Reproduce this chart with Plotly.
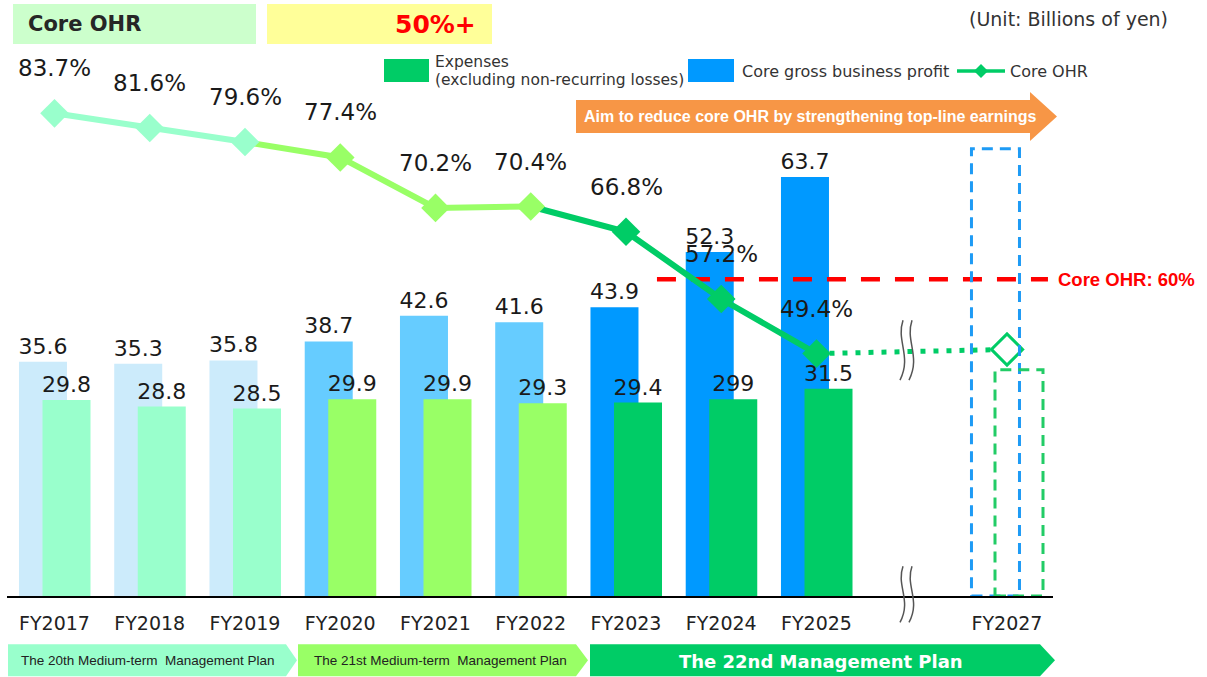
import plotly.graph_objects as go

# ---------------- data ----------------
years = ["FY2017", "FY2018", "FY2019", "FY2020", "FY2021", "FY2022", "FY2023", "FY2024", "FY2025"]
target_year = "FY2027"
core_profit = [35.6, 35.3, 35.8, 38.7, 42.6, 41.6, 43.9, 52.3, 63.7]
expenses = [29.8, 28.8, 28.5, 29.9, 29.9, 29.3, 29.4, 29.9, 31.5]
expense_labels = ["29.8", "28.8", "28.5", "29.9", "29.9", "29.3", "29.4", "299", "31.5"]
core_ohr = [83.7, 81.6, 79.6, 77.4, 70.2, 70.4, 66.8, 57.2, 49.4]
plan_index = [0, 0, 0, 1, 1, 1, 2, 2, 2]
target_profit = 68.0
target_expense = 34.4
target_ohr = 50.0
ohr_threshold = 60.0
plan_names = ["The 20th Medium-term  Management Plan",
              "The 21st Medium-term  Management Plan",
              "The 22nd Management Plan"]

# ---------------- style ----------------
profit_cols = ["#CCEBFB", "#66CCFF", "#0099FF"]
expense_cols = ["#99FFCC", "#99FF66", "#00CC66"]
FONT = "DejaVu Sans, Verdana, sans-serif"
NARROW = "Liberation Sans Narrow, Arial Narrow, Liberation Sans, Arial, sans-serif"

W, H = 1207, 677
L, R, T, B = 7, 1053, 60, 595.7


def px(x):
    return (x - L) / (R - L)


def py(y):
    return (B - y) / (B - T)


def path(points):
    s = "M " + " L ".join(f"{px(a):.5f},{py(b):.5f}" for a, b in points) + " Z"
    return s


xs = list(range(len(years)))
x_target = len(years) + 1
bw = 0.504
off_p = -0.373
off_e = -0.126

fig = go.Figure()

fig.add_trace(go.Bar(
    x=xs, y=core_profit, width=bw, offset=off_p,
    marker=dict(color=[profit_cols[p] for p in plan_index], line=dict(width=0)),
    text=[f"{v:.1f}" for v in core_profit], textposition="outside",
    textfont=dict(size=22, color="#1a1a1a", family=FONT),
    constraintext="none", cliponaxis=False, showlegend=False, hoverinfo="skip"))
fig.add_trace(go.Bar(
    x=xs, y=expenses, width=bw, offset=off_e,
    marker=dict(color=[expense_cols[p] for p in plan_index], line=dict(width=0)),
    text=expense_labels, textposition="outside",
    textfont=dict(size=22, color="#1a1a1a", family=FONT),
    constraintext="none", cliponaxis=False, showlegend=False, hoverinfo="skip"))

# threshold line (on y2 so it is above bars but under the OHR line)
fig.add_trace(go.Scatter(
    x=[6.325, 10.43], y=[ohr_threshold, ohr_threshold], yaxis="y2", mode="lines",
    line=dict(color="#FF0000", width=4.5, dash="19px,15px"), showlegend=False, hoverinfo="skip"))

# dotted connector to target
fig.add_trace(go.Scatter(
    x=[xs[-1], x_target], y=[core_ohr[-1], target_ohr], yaxis="y2", mode="lines",
    line=dict(color="#00CC66", width=5, dash="5px,8px"), showlegend=False, hoverinfo="skip"))

# OHR line segments
segments = [(0, 2), (2, 5), (5, 8)]
for k in (2, 1, 0):
    a, b = segments[k]
    fig.add_trace(go.Scatter(
        x=xs[a:b + 1], y=core_ohr[a:b + 1], yaxis="y2", mode="lines",
        line=dict(color=expense_cols[k], width=6), showlegend=False, hoverinfo="skip"))
fig.add_trace(go.Scatter(
    x=xs, y=core_ohr, yaxis="y2", mode="markers",
    marker=dict(symbol="diamond", size=22, color=[expense_cols[p] for p in plan_index], line=dict(width=0)),
    showlegend=False, hoverinfo="skip"))
fig.add_trace(go.Scatter(
    x=[x_target], y=[target_ohr], yaxis="y2", mode="markers",
    marker=dict(symbol="diamond", size=24, color="white", line=dict(width=3, color="#00CC66")),
    showlegend=False, hoverinfo="skip"))

annotations = []
for i, v in enumerate(core_ohr):
    annotations.append(dict(x=xs[i], y=v, xref="x", yref="y2", text=f"{v:.1f}%", showarrow=False,
                            yshift=45, font=dict(size=23, color="#1a1a1a", family=FONT)))

shapes = []
# target dashed boxes
shapes.append(dict(type="rect", xref="x", yref="y", x0=x_target + off_p, x1=x_target + off_p + bw,
                   y0=0, y1=target_profit, line=dict(color="#1E9BF5", width=3, dash="11px,7px"),
                   fillcolor="rgba(0,0,0,0)"))
shapes.append(dict(type="rect", xref="x", yref="y", x0=x_target + off_e, x1=x_target + off_e + bw,
                   y0=0, y1=target_expense, line=dict(color="#22CC66", width=3, dash="11px,7px"),
                   fillcolor="rgba(0,0,0,0)"))

# axis break marks
def wave(x0, yt, yb):
    h = yb - yt
    return (f"M {px(x0):.5f},{py(yt):.5f} C {px(x0 - 7):.5f},{py(yt + 0.35 * h):.5f} "
            f"{px(x0 + 9):.5f},{py(yb - 0.4 * h):.5f} {px(x0 - 3):.5f},{py(yb):.5f}")

for (yt, yb) in [(320, 380), (566, 622)]:
    for dx in (0, 9):
        shapes.append(dict(type="path", xref="paper", yref="paper", path=wave(903 + dx, yt, yb),
                           line=dict(color="#555555", width=1.5)))

# header boxes
shapes.append(dict(type="rect", xref="paper", yref="paper", x0=px(13), x1=px(256), y0=py(44), y1=py(4),
                   fillcolor="#CCFFCC", line=dict(width=0)))
shapes.append(dict(type="rect", xref="paper", yref="paper", x0=px(267), x1=px(492), y0=py(44), y1=py(4),
                   fillcolor="#FFFF99", line=dict(width=0)))
annotations.append(dict(x=px(26), y=py(24), xref="paper", yref="paper", xanchor="left", yanchor="middle",
                        text="<b>Core OHR</b>", showarrow=False, font=dict(size=21, color="#262626", family=FONT)))
annotations.append(dict(x=px(478), y=py(25), xref="paper", yref="paper", xanchor="right", yanchor="middle",
                        text="<b>50%+</b>", showarrow=False, font=dict(size=25, color="#FF0000", family=FONT)))
annotations.append(dict(x=px(1170), y=py(19), xref="paper", yref="paper", xanchor="right", yanchor="middle",
                        text="(Unit: Billions of yen)", showarrow=False, font=dict(size=19, color="#333333", family=FONT)))

# legend
shapes.append(dict(type="rect", xref="paper", yref="paper", x0=px(384), x1=px(429), y0=py(82), y1=py(59),
                   fillcolor="#00CC66", line=dict(width=0)))
annotations.append(dict(x=px(433), y=py(62), xref="paper", yref="paper", xanchor="left", yanchor="middle",
                        text="Expenses", showarrow=False, font=dict(size=15.5, color="#333333", family=FONT)))
annotations.append(dict(x=px(433), y=py(80), xref="paper", yref="paper", xanchor="left", yanchor="middle",
                        text="(excluding non-recurring losses)", showarrow=False,
                        font=dict(size=15.5, color="#333333", family=FONT)))
shapes.append(dict(type="rect", xref="paper", yref="paper", x0=px(688), x1=px(734), y0=py(82), y1=py(59),
                   fillcolor="#0099FF", line=dict(width=0)))
annotations.append(dict(x=px(740), y=py(71), xref="paper", yref="paper", xanchor="left", yanchor="middle",
                        text="Core gross business profit", showarrow=False,
                        font=dict(size=16, color="#333333", family=FONT)))
shapes.append(dict(type="line", xref="paper", yref="paper", x0=px(957), x1=px(1005), y0=py(71), y1=py(71),
                   line=dict(color="#00CC66", width=3.5)))
shapes.append(dict(type="path", xref="paper", yref="paper",
                   path=path([(974, 71), (981, 64), (988, 71), (981, 78)]),
                   fillcolor="#00CC66", line=dict(width=0)))
annotations.append(dict(x=px(1008), y=py(71), xref="paper", yref="paper", xanchor="left", yanchor="middle",
                        text="Core OHR", showarrow=False, font=dict(size=16, color="#333333", family=FONT)))

# orange arrow banner
shapes.append(dict(type="path", xref="paper", yref="paper",
                   path=path([(576, 100), (1030, 100), (1030, 92), (1057, 116.5), (1030, 141), (1030, 133), (576, 133)]),
                   fillcolor="#F79646", line=dict(width=0)))
annotations.append(dict(x=px(811), y=py(116.5), xref="paper", yref="paper", xanchor="center", yanchor="middle",
                        text="<b>Aim to reduce core OHR by strengthening top-line earnings</b>", showarrow=False,
                        font=dict(size=16, color="white", family=NARROW)))

# threshold label
annotations.append(dict(x=px(1056), y=ohr_threshold, xref="paper", yref="y2", xanchor="left", yanchor="middle",
                        text="<b>Core OHR: 60%</b>", showarrow=False,
                        font=dict(size=18.5, color="#FF0000", family="Liberation Sans, Arial, sans-serif")))

# bottom plan chevrons
chevrons = [
    ([(8, 644), (286, 644), (297, 660), (286, 676), (8, 676)], 148),
    ([(298, 644), (576, 644), (588, 660), (576, 676), (298, 676)], 440),
    ([(590, 644), (1040, 644), (1055, 660), (1040, 676), (590, 676)], 821),
]
for k, (pts, cx) in enumerate(chevrons):
    shapes.append(dict(type="path", xref="paper", yref="paper", path=path(pts),
                       fillcolor=expense_cols[k], line=dict(width=0)))
    if k < 2:
        annotations.append(dict(x=px(cx), y=py(660), xref="paper", yref="paper", xanchor="center",
                                yanchor="middle", text=plan_names[k], showarrow=False,
                                font=dict(size=13.5, color="#222222", family=NARROW)))
    else:
        annotations.append(dict(x=px(cx), y=py(661), xref="paper", yref="paper", xanchor="center",
                                yanchor="middle", text="<b>" + plan_names[k] + "</b>", showarrow=False,
                                font=dict(size=18, color="white", family=FONT)))

fig.update_layout(
    width=W, height=H,
    margin=dict(l=L, r=W - R, t=T, b=H - B, pad=0),
    paper_bgcolor="white", plot_bgcolor="white",
    barmode="overlay", showlegend=False,
    xaxis=dict(range=[(L - 54.5) / 95.25, (R - 54.5) / 95.25], tickvals=xs + [x_target],
               ticktext=years + [target_year], showgrid=False, zeroline=False,
               showline=True, linecolor="#000000", linewidth=1.5, ticks="",
               tickfont=dict(size=19, color="#222222", family=FONT), ticklabelstandoff=9),
    yaxis=dict(range=[0, (B - T) / 6.575], showgrid=False, zeroline=False, showticklabels=False,
               showline=False, ticks=""),
    yaxis2=dict(range=[14.8, 83.7 + (113.3 - T) / 7.0], overlaying="y", side="right", showgrid=False,
                zeroline=False, showticklabels=False, showline=False, ticks=""),
    shapes=shapes, annotations=annotations,
)

fig.write_html("out.html", config={"displayModeBar": False},
               post_script="document.body.style.margin='0';document.body.style.overflow='hidden';")
